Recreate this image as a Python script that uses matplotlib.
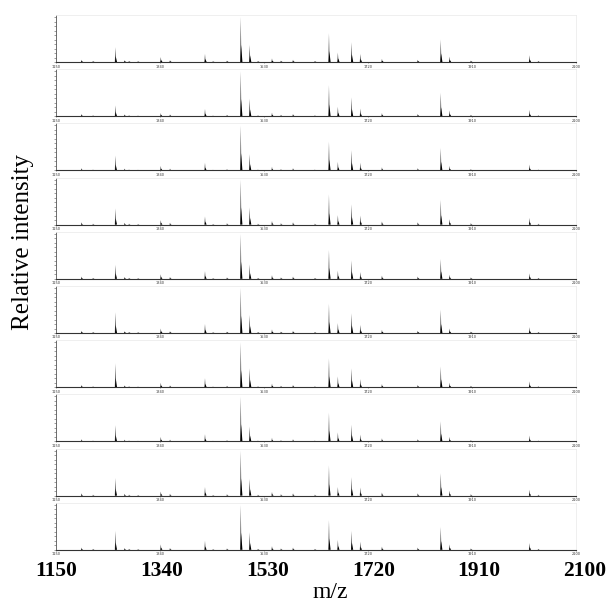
import matplotlib
matplotlib.use("Agg")
import matplotlib.pyplot as plt
import numpy as np

# ---- data ----
inner_ticks = [1150, 1340, 1530, 1720, 1910, 2100]
outer_tick_labels = ["1150", "1340", "1530", "1720", "1910", "2100"]

# main peaks (m/z) whose height varies per spectrum
main_mz = [1258.5, 1341.5, 1422.2, 1487.6, 1503.9, 1648.7, 1665.0, 1690.0, 1706.0, 1853.0, 1869.0, 2015.0]
main_int = [
    [0.33, 0.11, 0.18, 1.0, 0.38, 0.64, 0.21, 0.44, 0.18, 0.50, 0.12, 0.15],
    [0.24, 0.07, 0.16, 1.0, 0.39, 0.69, 0.21, 0.42, 0.17, 0.52, 0.13, 0.14],
    [0.33, 0.10, 0.17, 1.0, 0.36, 0.64, 0.19, 0.45, 0.17, 0.50, 0.10, 0.13],
    [0.36, 0.10, 0.18, 1.0, 0.38, 0.67, 0.21, 0.45, 0.20, 0.55, 0.12, 0.15],
    [0.31, 0.10, 0.17, 1.0, 0.32, 0.64, 0.18, 0.41, 0.15, 0.44, 0.09, 0.12],
    [0.46, 0.10, 0.20, 1.0, 0.40, 0.65, 0.22, 0.44, 0.18, 0.52, 0.10, 0.13],
    [0.53, 0.10, 0.20, 1.0, 0.42, 0.64, 0.24, 0.42, 0.18, 0.46, 0.10, 0.13],
    [0.36, 0.10, 0.16, 1.0, 0.33, 0.64, 0.20, 0.37, 0.15, 0.45, 0.10, 0.13],
    [0.39, 0.09, 0.19, 1.0, 0.37, 0.67, 0.19, 0.41, 0.18, 0.50, 0.11, 0.13],
    [0.42, 0.12, 0.20, 1.0, 0.39, 0.66, 0.22, 0.42, 0.18, 0.51, 0.12, 0.15],
]

# minor peaks, same in every spectrum
minor_mz = [1196.6, 1217.6, 1275.3, 1283.4, 1299.8, 1358.3, 1436.8, 1462.4, 1519.0,
            1544.6, 1561.0, 1583.0, 1623.0, 1745.5, 1811.0, 1908.0, 2031.0]
minor_int = [0.05, 0.02, 0.04, 0.02, 0.015, 0.04, 0.015, 0.03, 0.02,
             0.08, 0.03, 0.05, 0.02, 0.07, 0.05, 0.03, 0.02]

# ---- layout ----
W, H = 608, 598
fig = plt.figure(figsize=(W / 100, H / 100), dpi=100)
serif = ["Liberation Serif", "DejaVu Serif"]

x_left, x_right = 56, 576
first_base, step, ph = 62, 54.2, 47


def draw_peak(ax, m, h):
    ax.fill([m - 1.0, m, m + 1.0], [0, h, 0], color="black", lw=0, alpha=0.85)
    ax.fill([m - 0.5, m + 0.6, m + 3.0], [0, 0.38 * h, 0], color="black", lw=0)


for i, ints in enumerate(main_int):
    base = first_base + i * step
    ax = fig.add_axes([x_left / W, 1 - base / H, (x_right - x_left) / W, ph / H])
    ax.set_xlim(1150, 2100)
    ax.set_ylim(0, 1.045)
    for m, h in zip(main_mz, ints):
        draw_peak(ax, m, h)
    for m, h in zip(minor_mz, minor_int):
        draw_peak(ax, m, h)
    for s in ("top", "right"):
        ax.spines[s].set_color("#ececec")
        ax.spines[s].set_linewidth(0.6)
    ax.spines["left"].set_color("#555555")
    ax.spines["left"].set_linewidth(0.6)
    ax.spines["bottom"].set_color("#333333")
    ax.spines["bottom"].set_linewidth(0.8)
    ax.set_yticks(np.linspace(0, 1, 11))
    ax.set_yticklabels([])
    ax.tick_params(axis="y", length=1.5, width=0.4, color="#555555")
    ax.set_xticks(inner_ticks)
    ax.set_xticklabels([str(t) for t in inner_ticks], fontsize=2.5, color="#333333")
    ax.tick_params(axis="x", length=1.0, width=0.4, pad=0.8, color="#555555")

# outer axis for the big m/z labels
ax_o = fig.add_axes([56 / W, 1 - 561 / H, (585 - 56) / W, 0.001])
ax_o.set_xlim(1150, 2100)
ax_o.set_xticks(inner_ticks)
ax_o.set_xticklabels(outer_tick_labels, fontfamily=serif, fontweight="bold", fontsize=15.5)
ax_o.tick_params(axis="x", length=0, pad=0)
ax_o.set_yticks([])
for s in ax_o.spines.values():
    s.set_visible(False)
ax_o.patch.set_visible(False)

fig.text(330 / W, 1 - 598.5 / H, "m/z", ha="center", va="baseline",
         fontfamily=serif, fontsize=17)
fig.text(23 / W, 1 - 242 / H, "Relative intensity", ha="center", va="center",
         rotation=90, fontfamily=serif, fontsize=18)

fig.savefig("out.png", dpi=100)
